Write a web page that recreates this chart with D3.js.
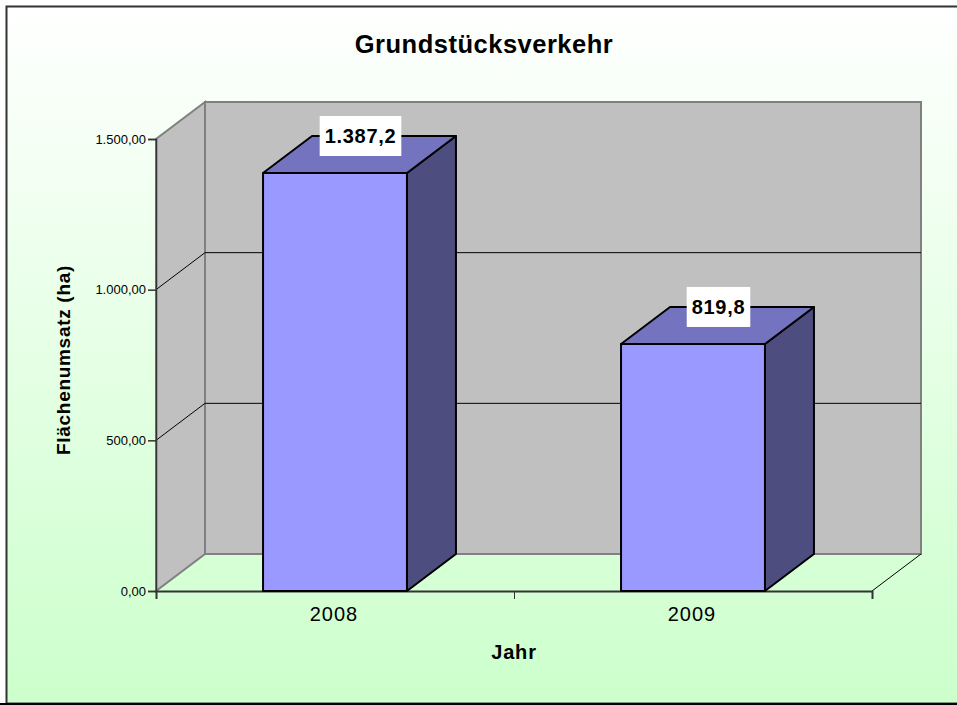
<!DOCTYPE html>
<html>
<head>
<meta charset="utf-8">
<script src="https://cdn.jsdelivr.net/npm/d3@7"></script>
<style>
  html, body { margin: 0; padding: 0; background: #fff; }
  svg { display: block; }
  text { font-family: "Liberation Sans", Arial, sans-serif; fill: #000; }
</style>
</head>
<body>
<div id="container"></div>
<script>
/* CONSTANTS AND GLOBALS */
const width = 957,
  height = 705
const plot = { left: 156, right: 872, top: 139, bottom: 591 }
const depth = { x: 49, y: -37 }

/* DATA */
const years = ["2008", "2009"]
const flaechen = [1387.2, 819.8]
const yTicks = [0, 500, 1000, 1500]
const chartTitle = "Grundstücksverkehr"
const yTitle = "Flächenumsatz (ha)"
const xTitle = "Jahr"

const de = d3.formatLocale({ decimal: ",", thousands: ".", grouping: [3], currency: ["", " €"] })
const data = years.map((y, i) => ({ year: y, value: flaechen[i] }))

// SCALES
const xScale = d3.scaleBand()
  .domain(years)
  .range([plot.left, plot.right])
  .paddingInner(0.598)
  .paddingOuter(0.299)

const yScale = d3.scaleLinear()
  .domain([0, 1500])
  .range([plot.bottom, plot.top])

// band edges for the x ticks
const edgeScale = d3.scaleLinear()
  .domain([0, years.length])
  .range([plot.left, plot.right])

// CREATE SVG ELEMENT
const svg = d3.select("#container")
  .append("svg")
  .attr("width", width)
  .attr("height", height)

const grad = svg.append("defs").append("linearGradient")
  .attr("id", "bg")
  .attr("x1", 0).attr("y1", 0).attr("x2", 0).attr("y2", 1)
grad.append("stop").attr("offset", "0%").attr("stop-color", "#ffffff")
grad.append("stop").attr("offset", "100%").attr("stop-color", "#ccffcc")

// BACKGROUND + FRAME
svg.append("rect")
  .attr("x", 7).attr("y", 7)
  .attr("width", width).attr("height", 696)
  .attr("fill", "url(#bg)")
svg.append("path")
  .attr("d", `M${width},6.5H6.5V703.5H${width}`)
  .attr("fill", "none")
  .attr("stroke", "#333")
  .attr("stroke-width", 2)
svg.append("line")
  .attr("x1", 0).attr("x2", width)
  .attr("y1", 704).attr("y2", 704)
  .attr("stroke", "#000")
  .attr("stroke-width", 2)

// WALLS
const y0 = yScale(0), yMax = yScale(1500)
const bx0 = plot.left + depth.x, bx1 = plot.right + depth.x

// back wall
svg.append("rect")
  .attr("x", bx0)
  .attr("y", yMax + depth.y)
  .attr("width", bx1 - bx0)
  .attr("height", y0 - yMax)
  .attr("fill", "#c0c0c0")
  .attr("stroke", "#808080")
  .attr("stroke-width", 2)

// side wall
svg.append("path")
  .attr("d", d3.line()([[plot.left, y0], [plot.left, yMax], [bx0, yMax + depth.y], [bx0, y0 + depth.y]]) + "Z")
  .attr("fill", "#c0c0c0")
  .attr("stroke", "#808080")
  .attr("stroke-width", 2)

// GRID LINES
const grid = svg.append("g").attr("class", "grid")
grid.selectAll("path")
  .data(yTicks.filter(d => d > 0 && d < 1500))
  .join("path")
  .attr("d", d => d3.line()([
    [plot.left, yScale(d)],
    [bx0, yScale(d) + depth.y],
    [bx1, yScale(d) + depth.y]
  ]))
  .attr("fill", "none")
  .attr("stroke", "#000")
  .attr("stroke-width", 1)

// floor right edge
svg.append("line")
  .attr("x1", plot.right).attr("y1", y0)
  .attr("x2", bx1).attr("y2", y0 + depth.y)
  .attr("stroke", "#000")
  .attr("stroke-width", 1)

// BUILD AND CALL AXES
const yAxis = d3.axisLeft(yScale)
  .tickValues(yTicks)
  .tickFormat(de.format(",.2f"))
  .tickSize(8)
  .tickPadding(2)
svg.append("g")
  .attr("class", "yAxis")
  .attr("transform", `translate(${plot.left}, 0)`)
  .call(yAxis)
  .call(g => g.selectAll("text").style("font-size", "13px"))
  .call(g => g.selectAll("line,path").attr("stroke", "#333").attr("stroke-width", 1.5))

const xTicks = d3.axisBottom(edgeScale)
  .tickValues(d3.range(years.length + 1))
  .tickFormat("")
  .tickSize(8)
svg.append("g")
  .attr("class", "xTicks")
  .attr("transform", `translate(0, ${plot.bottom})`)
  .call(xTicks)
  .call(g => g.selectAll("line").attr("stroke", "#333").attr("stroke-width", 1))
  .call(g => g.select("path").attr("stroke", "#333").attr("stroke-width", 2))

const xAxis = d3.axisBottom(xScale).tickSize(0).tickPadding(16)
svg.append("g")
  .attr("class", "xAxis")
  .attr("transform", `translate(-1, ${plot.bottom})`)
  .call(xAxis)
  .call(g => g.select("path").remove())
  .call(g => g.selectAll("text").style("font-size", "20px").style("letter-spacing", "1px"))

// DRAW BARS (3D boxes)
const bars = svg.selectAll(".bar")
  .data(data)
  .join("g")
  .attr("class", "bar")
  .attr("stroke", "#000")
  .attr("stroke-width", 2)
  .attr("stroke-linejoin", "round")

bars.append("path")
  .attr("fill", "#4d4d80")
  .attr("d", d => {
    const x1 = xScale(d.year) + xScale.bandwidth(), yT = yScale(d.value)
    return d3.line()([[x1, y0], [x1, yT], [x1 + depth.x, yT + depth.y], [x1 + depth.x, y0 + depth.y]]) + "Z"
  })
bars.append("path")
  .attr("fill", "#7373bf")
  .attr("d", d => {
    const x = xScale(d.year), x1 = x + xScale.bandwidth(), yT = yScale(d.value)
    return d3.line()([[x, yT], [x + depth.x, yT + depth.y], [x1 + depth.x, yT + depth.y], [x1, yT]]) + "Z"
  })
bars.append("rect")
  .attr("fill", "#9999ff")
  .attr("x", d => xScale(d.year))
  .attr("y", d => yScale(d.value))
  .attr("width", xScale.bandwidth())
  .attr("height", d => y0 - yScale(d.value))

// VALUE LABELS
const labels = svg.selectAll(".valueLabel")
  .data(data)
  .join("g")
  .attr("class", "valueLabel")
  .attr("transform", d => `translate(${xScale(d.year) + xScale.bandwidth() / 2 + depth.x / 2 + 1}, ${yScale(d.value) + depth.y})`)

labels.append("text")
  .attr("text-anchor", "middle")
  .attr("y", 7)
  .style("font-size", "20px")
  .style("font-weight", "bold")
  .style("letter-spacing", "0.7px")
  .text(d => de.format(",.1f")(d.value))

labels.insert("rect", "text")
  .attr("fill", "#fff")
  .each(function() {
    const b = this.parentNode.querySelector("text").getBBox()
    d3.select(this)
      .attr("x", b.x - 5)
      .attr("width", b.width + 10)
      .attr("y", -20)
      .attr("height", 40)
  })

// TITLES
svg.append("text")
  .attr("x", 484)
  .attr("y", 53)
  .attr("text-anchor", "middle")
  .style("font-size", "25.5px")
  .style("font-weight", "bold")
  .style("letter-spacing", "0.5px")
  .text(chartTitle)

svg.append("text")
  .attr("x", 514)
  .attr("y", 659)
  .attr("text-anchor", "middle")
  .style("font-size", "20px")
  .style("font-weight", "bold")
  .style("letter-spacing", "0.8px")
  .text(xTitle)

svg.append("text")
  .attr("transform", "translate(70, 360) rotate(-90)")
  .attr("text-anchor", "middle")
  .style("font-size", "19px")
  .style("font-weight", "bold")
  .style("letter-spacing", "0.7px")
  .text(yTitle)
</script>
</body>
</html>
